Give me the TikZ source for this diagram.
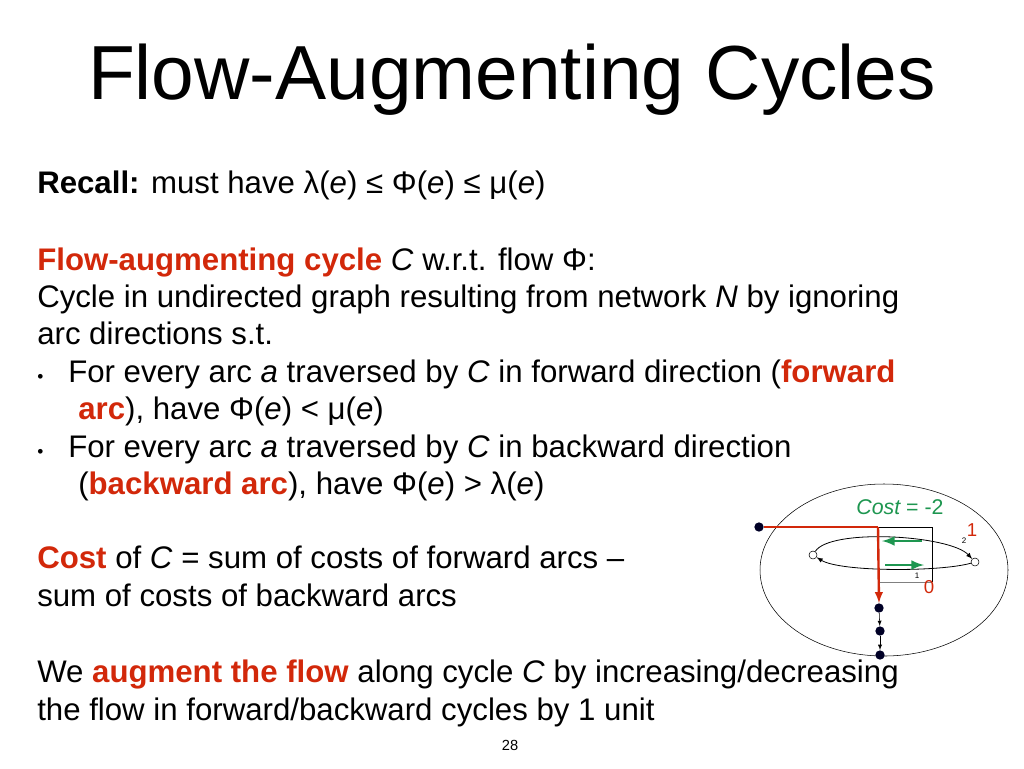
\documentclass[tikz,border=0pt]{standalone}
\usepackage{fontspec}
\setmainfont{Liberation Sans}
\definecolor{hl}{RGB}{210,40,10}
\definecolor{gr}{RGB}{30,150,80}
\begin{document}
\begin{tikzpicture}[x=0.75pt,y=-0.75pt,
  txt/.style={anchor=base west,inner sep=0,font=\fontsize{23.4}{26}\selectfont},
  dot/.style={circle,fill=black!85!blue,inner sep=0,minimum size=7pt},
  wdot/.style={circle,draw,fill=white,inner sep=0,minimum size=6pt},
  lab/.style={inner sep=0,font=\fontsize{6}{7}\selectfont}]
\useasboundingbox (0,0) rectangle (1024,768);
\node[anchor=base,inner sep=0,font=\fontsize{57.5}{62}\selectfont] (title) at (512,99) {Flow-Augmenting Cycles};
\node[txt] (l1) at (37,193) {\textbf{Recall:} must have λ(\textit{e}) ≤ Φ(\textit{e}) ≤ μ(\textit{e})};
\node[txt] (l2) at (37,270) {\textcolor{hl}{\textbf{Flow-augmenting cycle}} \textit{C} w.r.t. flow Φ:};
\node[txt] (l3) at (37,307) {Cycle in undirected graph resulting from network \textit{N} by ignoring};
\node[txt] (l4) at (37,344) {arc directions s.t.};
\node[txt] (b1) at (37,382) {\fontsize{13}{13}\selectfont•};
\node[txt] (l5) at (68,382) {For every arc \textit{a} traversed by \textit{C} in forward direction (\textcolor{hl}{\textbf{forward}}};
\node[txt] (l6) at (78,419) {\textcolor{hl}{\textbf{arc}}), have Φ(\textit{e}) < μ(\textit{e})};
\node[txt] (b2) at (37,457) {\fontsize{13}{13}\selectfont•};
\node[txt] (l7) at (68,457) {For every arc \textit{a} traversed by \textit{C} in backward direction};
\node[txt] (l8) at (78,494) {(\textcolor{hl}{\textbf{backward arc}}), have Φ(\textit{e}) > λ(\textit{e})};
\node[txt] (l9) at (37,568) {\textcolor{hl}{\textbf{Cost}} of \textit{C} = sum of costs of forward arcs –};
\node[txt] (l10) at (37,606) {sum of costs of backward arcs};
\node[txt] (l11) at (37,682) {We \textcolor{hl}{\textbf{augment the flow}} along cycle \textit{C} by increasing/decreasing};
\node[txt] (l12) at (37,720) {the flow in forward/backward cycles by 1 unit};
\node[inner sep=0,font=\fontsize{11}{12}\selectfont] (pg) at (510,745) {28};
% diagram
\draw[thin] (884,570) ellipse [x radius=124, y radius=86];
\node[inner sep=0,font=\fontsize{16}{17}\selectfont\itshape,text=gr] (cost) at (900,507) {Cost\upshape\ = -2};
\draw[thin] (878,527) -- (932,527) -- (932,582);
\draw[thin,gray] (932,582) -- (878,582);
\node[wdot] (s) at (813,555) {};
\node[wdot] (t) at (975,562) {};
\draw[semithick,-latex] (s) .. controls (830,528) and (950,535) .. (t);
\draw[semithick,-latex] (t) .. controls (940,572) and (840,572) .. (s);
\draw[gr,line width=2.2pt,-latex] (922,541) -- (882,541);
\draw[gr,line width=2.2pt,-latex] (885,565) -- (924,565);
\node[lab] (n2) at (964,541) {2};
\node[inner sep=0,text=hl,font=\fontsize{14}{15}\selectfont] (r1) at (972,530) {1};
\node[lab] (n1) at (917,576) {1};
\node[inner sep=0,text=hl,font=\fontsize{14}{15}\selectfont] (r0) at (929,587) {0};
\node[dot] (a) at (759,527) {};
\node[dot] (b) at (879,608) {};
\node[dot] (c) at (880,631) {};
\node[dot] (d) at (880,655) {};
\coordinate (k) at (878,527);
\draw[hl,line width=1.8pt] (a) -- (k);
\draw[hl,line width=1.8pt,-latex] (k) -- (b.north);
\draw[thin,-latex] (b) -- (c);
\draw[thin,-latex] (c) -- (d);
\end{tikzpicture}
\end{document}
